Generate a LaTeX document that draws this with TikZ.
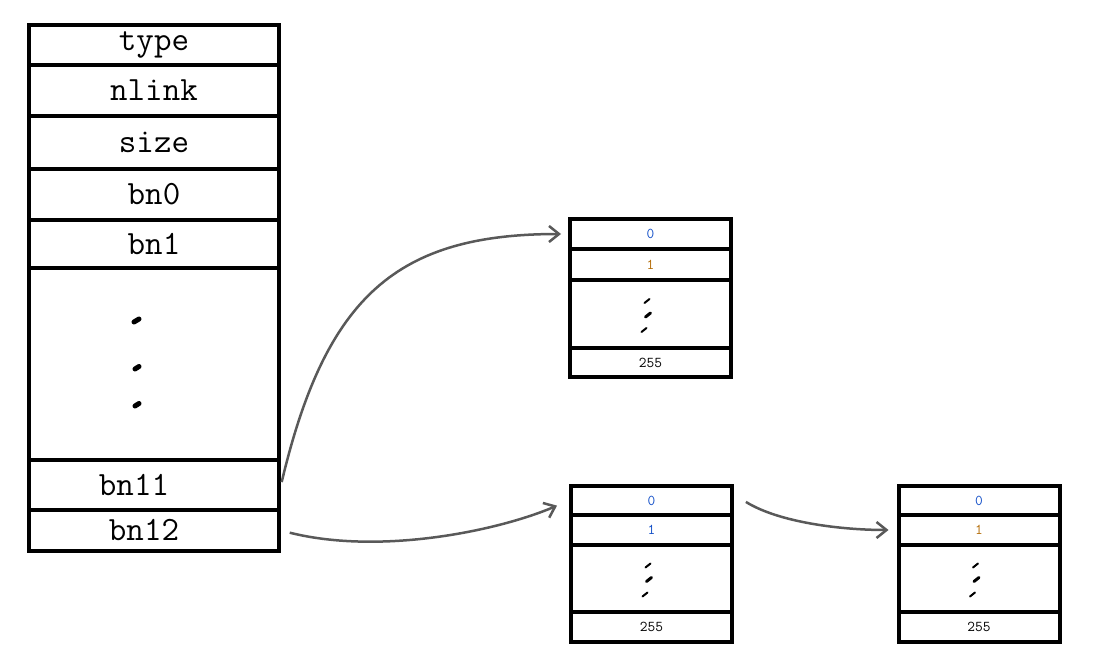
\documentclass[tikz,border=0pt]{standalone}
\usepackage{fontspec}
\usetikzlibrary{arrows.meta}
\definecolor{idxblue}{RGB}{20,80,200}
\definecolor{idxbrown}{RGB}{180,110,10}
\newcommand{\fld}[1]{\texttt{#1}}

\begin{document}
\begin{tikzpicture}
                \tikzset{x=1pt, y=-1pt}
                \tikzstyle{inode}=[rectangle, draw, line width=4pt, minimum width=250pt, inner sep=0pt, font=\fontsize{34}{34}\selectfont]
                \tikzstyle{blk}=[rectangle, draw, line width=4pt, minimum width=161pt, inner sep=0pt, font=\fontsize{15}{15}\selectfont]
                \tikzstyle{blob}=[line width=5pt, line cap=round]
                \tikzstyle{tick}=[line width=2pt, line cap=round]
                \tikzstyle{link}=[black!65, line width=2.5pt, -{Straight Barb[length=10pt, width=16pt, line width=2.5pt]}]

                \useasboundingbox (0,0) rectangle (1101,669);

                % the inode
                \draw (154, 45.0)   node[inode, minimum height=40pt]  (type)  {\fld{type}};
                \draw (154, 90.5)   node[inode, minimum height=51pt]  (nlink) {\fld{nlink}};
                \draw (154, 142.5)  node[inode, minimum height=53pt]  (size)  {\fld{size}};
                \draw (154, 194.5)  node[inode, minimum height=51pt]  (bn0)   {\fld{bn0}};
                \draw (154, 244.0)  node[inode, minimum height=48pt]  (bn1)   {\fld{bn1}};
                \draw (154, 364.0)  node[inode, minimum height=192pt] (dots)  {};
                \draw (154, 485.0)  node[inode, minimum height=50pt]  (bn11)  {\fld{bn11}\hspace*{40pt}};
                \draw (154, 530.5)  node[inode, minimum height=41pt]  (bn12)  {\fld{bn12}\hspace*{20pt}};

                \draw [blob]        ([shift={(-20,-42)}]dots.center) -- ++(5,-3);
                \draw [blob]        ([shift={(-19,5)}]dots.center)   -- ++(4,-2.5);
                \draw [blob]        ([shift={(-19,42)}]dots.center)  -- ++(4,-2.5);

                % data blocks
                \draw (650.5, 234.0)  node[blk, minimum height=30pt] (a0) {\fld{\textcolor{idxblue}{0}}};
                \draw (650.5, 264.5)  node[blk, minimum height=31pt] (a1) {\fld{\textcolor{idxbrown}{1}}};
                \draw (650.5, 314.0)  node[blk, minimum height=68pt] (a2) {};
                \draw (650.5, 362.5)  node[blk, minimum height=29pt] (a3) {\fld{255}};

                \draw (651.5, 500.5)  node[blk, minimum height=29pt] (b0) {\fld{\textcolor{idxblue}{0}}};
                \draw (651.5, 530.0)  node[blk, minimum height=30pt] (b1) {\fld{\textcolor{idxblue}{1}}};
                \draw (651.5, 578.5)  node[blk, minimum height=67pt] (b2) {};
                \draw (651.5, 627.0)  node[blk, minimum height=30pt] (b3) {\fld{255}};

                \draw (979.0, 500.5)  node[blk, minimum height=29pt] (c0) {\fld{\textcolor{idxblue}{0}}};
                \draw (979.0, 530.0)  node[blk, minimum height=30pt] (c1) {\fld{\textcolor{idxbrown}{1}}};
                \draw (979.0, 578.5)  node[blk, minimum height=67pt] (c2) {};
                \draw (979.0, 627.0)  node[blk, minimum height=30pt] (c3) {\fld{255}};

                \foreach \m in {a2, b2, c2} {
                    \draw [tick]                 ([shift={(-6,-11)}]\m.center) -- ++(5,-4);
                    \draw [tick, line width=3pt] ([shift={(-5,3)}]\m.center)   -- ++(5,-4);
                    \draw [tick]                 ([shift={(-9,18)}]\m.center)  -- ++(5,-4);
                }

                % block pointers
                \draw [link, shorten <=3pt, shorten >=7pt]
                        (bn11.east) .. controls +(45,-190) and +(-170,0) .. (a0.west);
                \draw [link, shorten <=9pt, shorten >=13pt]
                        (bn12.east) .. controls +(100,25) and +(-70,30) .. (b0.west);
                \draw [link, shorten <=14pt, shorten >=8pt]
                        ([yshift=6pt]b0.east) .. controls +(45,28) and +(-55,0) .. (c1.west);
\end{tikzpicture}
\end{document}
